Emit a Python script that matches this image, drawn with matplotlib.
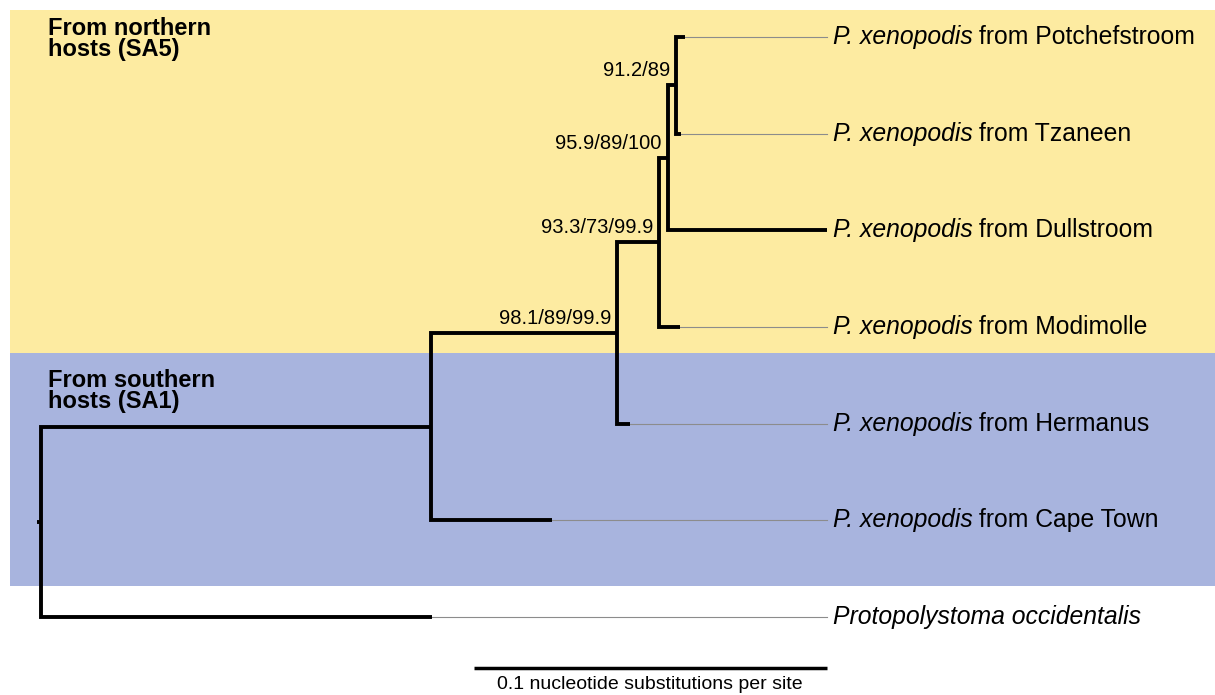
import matplotlib
matplotlib.use('Agg')
import matplotlib.pyplot as plt

plt.rcParams['font.family'] = ['Liberation Sans', 'DejaVu Sans']

# tree: node names, parents and branch lengths (substitutions per site)
names = ['root', 'ingroup', 'Protopolystoma occidentalis', 'n98', 'Cape Town',
         'n93', 'Hermanus', 'n95', 'Modimolle', 'n91', 'Dullstroom',
         'Potchefstroom', 'Tzaneen']
parents = [None, 'root', 'root', 'ingroup', 'ingroup', 'n98', 'n98',
           'n93', 'n93', 'n95', 'n95', 'n91', 'n91']
branch_len = [0.0011, 0.1105, 0.1108, 0.0527, 0.0343, 0.0119, 0.0037,
              0.0025, 0.0059, 0.0023, 0.0450, 0.0025, 0.0014]

# tips from top to bottom
tip_order = ['Potchefstroom', 'Tzaneen', 'Dullstroom', 'Modimolle',
             'Hermanus', 'Cape Town', 'Protopolystoma occidentalis']
outgroup = 'Protopolystoma occidentalis'
species = 'P. xenopodis'

support_nodes = ['n91', 'n95', 'n93', 'n98']
support_labels = ['91.2/89', '95.9/89/100', '93.3/73/99.9', '98.1/89/99.9']

scale_len = 0.1
scale_text = '0.1 nucleotide substitutions per site'

# --- layout ---
parent_of = dict(zip(names, parents))
blen = dict(zip(names, branch_len))
children = {n: [c for c, p in zip(names, parents) if p == n] for n in names}

xpos = {}
for n in names:  # parents listed before children
    p = parent_of[n]
    xpos[n] = blen[n] + (xpos[p] if p else 0.0)

ypos = {}
def get_y(n):
    if n in tip_order:
        ypos[n] = tip_order.index(n)
    else:
        ys = [get_y(c) for c in children[n]]
        ypos[n] = (min(ys) + max(ys)) / 2
    return ypos[n]
get_y('root')

px_per_unit = 3530
fig = plt.figure(figsize=(12.15, 6.95), dpi=100)
ax = fig.add_axes([0, 0, 1, 1])
x0 = -37 / px_per_unit
ax.set_xlim(x0, x0 + 1215 / px_per_unit)
row = 96.67
ax.set_ylim((695 - 37) / row, -37 / row)
ax.axis('off')

# background bands (pixel boundaries turned into data rows)
ax.axhspan((10 - 37) / row, (353 - 37) / row, xmin=10 / 1215, color='#fdeba1', lw=0, zorder=0)
ax.axhspan((353 - 37) / row, (586 - 37) / row, xmin=10 / 1215, color='#a8b4de', lw=0, zorder=0)

lw = 2.8
align_x = max(xpos[t] for t in tip_order)

# root stub
ax.plot([0, xpos['root']], [ypos['root']] * 2, color='black', lw=lw,
        solid_capstyle='butt', zorder=3)
for n in names[1:]:
    p = parent_of[n]
    ax.plot([xpos[p], xpos[p], xpos[n]], [ypos[p], ypos[n], ypos[n]],
            color='black', lw=lw, solid_joinstyle='miter', solid_capstyle='butt',
            zorder=3)

for t in tip_order:
    ax.plot([xpos[t], align_x], [ypos[t]] * 2, color='#8c8c8c', lw=0.8, zorder=2)
    first = outgroup if t == outgroup else species
    lab = ax.annotate(first, (align_x, ypos[t]), xytext=(6, 0), textcoords='offset pixels',
                      ha='left', va='center', fontsize=17.8, fontstyle='italic')
    if t != outgroup:
        ax.annotate(' from ' + t, (1, 0), xycoords=lab, ha='left', va='bottom',
                    fontsize=17.8)

for n, s in zip(support_nodes, support_labels):
    ax.annotate(s, (xpos[n], ypos[n]), xytext=(-6, 5), textcoords='offset pixels',
                ha='right', va='bottom', fontsize=14.5)

# group labels
ax.text(48 / 1215, 1 - 17 / 695, 'From northern\nhosts (SA5)', transform=ax.transAxes,
        ha='left', va='top', fontsize=17, fontweight='bold', linespacing=0.9)
ax.text(48 / 1215, 1 - 369 / 695, 'From southern\nhosts (SA1)', transform=ax.transAxes,
        ha='left', va='top', fontsize=17, fontweight='bold', linespacing=0.9)

# scale bar
bar_y = len(tip_order) - 1 + 0.53
ax.plot([align_x - scale_len, align_x], [bar_y, bar_y], color='black', lw=2.5,
        solid_capstyle='butt')
ax.annotate(scale_text, (align_x - scale_len / 2, bar_y), xytext=(0, -8),
            textcoords='offset pixels', ha='center', va='top', fontsize=14)

fig.savefig('out.png', dpi=100)
